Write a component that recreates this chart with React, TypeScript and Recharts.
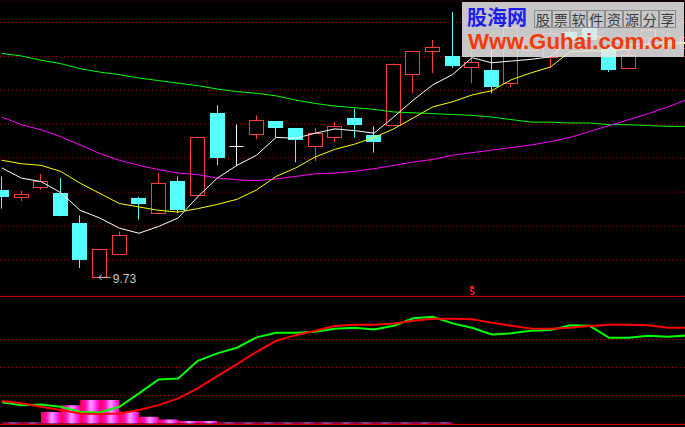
import { ComposedChart, Bar, Line, Area, XAxis, YAxis, CartesianGrid, ReferenceDot } from "recharts";

// daily candles
const OPEN = [10.76, 10.68, 10.8, 10.72, 10.37, 9.73, 10.01, 10.67, 10.49, 10.87, 10.7, 11.67, 11.28, 11.42, 11.57, 11.49, 11.28, 11.39, 11.61, 11.41, 11.53, 12.13, 12.4, 12.34, 12.21, 12.17, 12.02, 12.41, 12.33, 12.62, 12.67, 12.45, 12.2, 12.55, 12.46, 12.43];
const CLOSE = [10.68, 10.71, 10.87, 10.45, 9.94, 10.06, 10.23, 10.59, 10.84, 10.52, 11.39, 11.14, 11.28, 11.58, 11.49, 11.35, 11.43, 11.52, 11.53, 11.33, 12.25, 12.4, 12.45, 12.22, 12.27, 11.97, 12.68, 12.55, 12.61, 12.53, 12.53, 12.17, 12.35, 12.65, 12.53, 12.56];
const HIGH = [10.92, 10.75, 10.95, 10.9, 10.46, 10.06, 10.27, 10.68, 10.96, 10.92, 11.39, 11.76, 11.53, 11.64, 11.57, 11.49, 11.49, 11.56, 11.72, 11.51, 12.25, 12.4, 12.53, 12.86, 12.47, 12.41, 12.71, 12.59, 12.65, 12.71, 12.76, 12.47, 12.43, 12.68, 12.61, 12.61];
const LOW = [10.54, 10.63, 10.76, 10.45, 9.84, 9.73, 10.01, 10.41, 10.49, 10.49, 10.68, 11.05, 11.04, 11.36, 11.38, 11.09, 11.1, 11.33, 11.38, 11.2, 11.53, 11.9, 12.14, 12.2, 12.02, 11.9, 11.97, 12.33, 12.2, 12.47, 12.47, 12.15, 12.2, 12.41, 12.38, 12.39];

// moving averages
const MA5 = [11.02, 10.9, 10.86, 10.73, 10.52, 10.43, 10.31, 10.25, 10.33, 10.43, 10.68, 10.9, 11.05, 11.17, 11.38, 11.37, 11.43, 11.48, 11.46, 11.43, 11.62, 11.82, 12.0, 12.12, 12.32, 12.26, 12.28, 12.3, 12.33, 12.53, 12.6, 12.53, 12.47, 12.48, 12.5, 12.5];
const MA10 = [11.11, 11.07, 11.05, 10.98, 10.84, 10.72, 10.6, 10.56, 10.52, 10.5, 10.54, 10.59, 10.65, 10.76, 10.92, 11.02, 11.15, 11.24, 11.3, 11.38, 11.48, 11.61, 11.74, 11.8, 11.88, 11.93, 12.06, 12.14, 12.21, 12.39, 12.4, 12.4, 12.42, 12.45, 12.47, 12.49];
const MA30 = [11.62, 11.53, 11.47, 11.39, 11.29, 11.19, 11.11, 11.05, 11.0, 10.96, 10.94, 10.9, 10.88, 10.87, 10.89, 10.92, 10.95, 10.96, 10.98, 11.01, 11.05, 11.09, 11.12, 11.17, 11.2, 11.23, 11.26, 11.29, 11.33, 11.38, 11.45, 11.52, 11.59, 11.66, 11.74, 11.83];
const MA60 = [12.37, 12.34, 12.29, 12.25, 12.19, 12.15, 12.12, 12.08, 12.05, 12.02, 11.99, 11.95, 11.92, 11.9, 11.87, 11.82, 11.78, 11.75, 11.73, 11.71, 11.68, 11.67, 11.66, 11.65, 11.64, 11.62, 11.59, 11.56, 11.56, 11.55, 11.55, 11.53, 11.53, 11.52, 11.51, 11.51];

// oscillator pane
const FAST = [15.1, 13.1, 13.6, 11.9, 8.4, 7.9, 11.9, 21.5, 31.5, 32.2, 44.8, 50.1, 54.1, 61.5, 64.8, 64.8, 65.5, 67.6, 68.4, 67.2, 69.8, 75.1, 76.2, 71.5, 68.4, 63.6, 64.4, 66.2, 66.7, 70.1, 69.8, 61.2, 61.2, 62.6, 61.9, 62.9];
const SLOW = [16.0, 14.4, 11.9, 9.6, 7.2, 6.7, 7.2, 9.6, 13.1, 17.9, 25.1, 33.9, 42.4, 51.2, 59.1, 63.1, 66.2, 69.6, 70.5, 70.5, 71.5, 73.4, 74.8, 74.8, 74.4, 71.9, 69.8, 67.9, 67.6, 68.4, 69.6, 70.5, 70.5, 70.1, 68.4, 68.4];
const HIST = [0.7, 0.7, 8.3, 13.1, 16.7, 16.7, 8.3, 4.8, 2.9, 1.7, 1.7, 0.7, 0.7, 0.7, 0.7, 0.7, 0.7, 0.7, 0.7, 0.7, 0.7, 0.7, 0.7, 0, 0, 0, 0, 0, 0, 0, 0, 0, 0, 0, 0, 0];

const PRICE_TICKS = [9.935, 10.335, 10.735, 11.135, 11.535, 11.935, 12.335, 12.735];
const OSC_TICKS = [20, 40, 60];
const PRICE_DOMAIN = [9.51, 13.0];
const LOW_MARK = 5;
const SELL_AT = 24;
const TAGLINE = "股票软件资源分享";

const UP = "#ff3c3c";
const DOWN = "#54ffff";
const GRID = "#a80000";
const FRAME = "#c80000";

const W = 705.4;

const priceRows = OPEN.map((open, i) => ({
  i,
  open,
  close: CLOSE[i],
  high: HIGH[i],
  low: LOW[i],
  ma5: MA5[i],
  ma10: MA10[i],
  ma30: MA30[i],
  ma60: MA60[i],
}));

const oscRows = FAST.map((fast, i) => ({ i, fast, slow: SLOW[i], hist: HIST[i] }));

function Candle(props: any) {
  let { x, y, width, height, payload } = props;
  if (!payload || height == null) return null;
  if (height < 0) {
    y += height;
    height = -height;
  }
  const { open, close, high, low } = payload;
  const k = height / (high - low);
  const py = (v: number) => y + (high - v) * k;
  const cx = Math.floor(x + width / 2) + 0.5;
  if (open === close) {
    const yy = Math.round(py(open)) + 0.5;
    return (
      <g>
        <line x1={cx} x2={cx} y1={py(high)} y2={py(low)} stroke="#fff" />
        <line x1={cx - 7} x2={cx + 7} y1={yy} y2={yy} stroke="#fff" />
      </g>
    );
  }
  if (close > open) {
    const top = Math.round(py(close)) + 0.5;
    const bot = Math.round(py(open)) + 0.5;
    return (
      <g>
        <line x1={cx} x2={cx} y1={py(high)} y2={top} stroke={UP} />
        <line x1={cx} x2={cx} y1={bot} y2={py(low)} stroke={UP} />
        <rect x={cx - 7} y={top} width={14} height={bot - top} fill="#000" stroke={UP} />
      </g>
    );
  }
  const top = Math.round(py(open));
  const bot = Math.round(py(close));
  return (
    <g>
      <line x1={cx} x2={cx} y1={py(high)} y2={py(low)} stroke={DOWN} />
      <rect x={cx - 7.5} y={top} width={15} height={Math.max(1, bot - top)} fill={DOWN} />
    </g>
  );
}

function LowTag({ cx, cy }: any) {
  return (
    <g>
      <line x1={cx - 1} x2={cx + 11} y1={cy} y2={cy} stroke="#c0c0c0" />
      <path d={`M${cx + 2},${cy - 2.5} L${cx - 1},${cy} L${cx + 2},${cy + 2.5}`} stroke="#c0c0c0" fill="none" />
      <text x={cx + 13} y={cy + 5.5} fill="#c8c8c8" fontSize={12} fontFamily="Liberation Sans, Arial, sans-serif">
        {LOW[LOW_MARK].toFixed(2)}
      </text>
    </g>
  );
}

function SellMark({ cx, cy }: any) {
  return (
    <g fill="#ff2020">
      <path d={`M${cx - 2.5},${cy - 8} L${cx},${cy - 11} L${cx + 2.5},${cy - 8} Z`} />
      <text x={cx} y={cy - 0.5} textAnchor="middle" fontSize={9.5} fontWeight="bold" fontFamily="DejaVu Sans Mono, monospace">
        S
      </text>
    </g>
  );
}

const lineProps = { type: "linear" as const, dot: false, activeDot: false, isAnimationActive: false };

export default function App() {
  return (
    <div style={{ position: "fixed", left: 0, top: 0, width: 685, height: 427, background: "#000", overflow: "hidden" }}>
      <div style={{ position: "absolute", left: 0, top: 296, width: 685, height: 1, background: FRAME }} />
      <div style={{ position: "absolute", left: 0, top: 424, width: 685, height: 1, background: FRAME }} />

      <div style={{ position: "absolute", left: -8, top: 0 }}>
        <ComposedChart width={W} height={300} data={priceRows} margin={{ top: 0, right: 0, bottom: 4, left: 0 }} barSize={15}>
          <XAxis dataKey="i" type="category" scale="band" hide />
          <YAxis domain={PRICE_DOMAIN} ticks={PRICE_TICKS} allowDataOverflow hide />
          <CartesianGrid vertical={false} stroke={GRID} strokeDasharray="1 3" />
          <Bar dataKey={(d: any) => [d.low, d.high]} shape={Candle} isAnimationActive={false} />
          <Line {...lineProps} dataKey="ma60" stroke="#00ff00" strokeWidth={1} />
          <Line {...lineProps} dataKey="ma30" stroke="#ff00ff" strokeWidth={1} />
          <Line {...lineProps} dataKey="ma10" stroke="#ffff00" strokeWidth={1} />
          <Line {...lineProps} dataKey="ma5" stroke="#ffffff" strokeWidth={1} />
          <ReferenceDot x={LOW_MARK} y={LOW[LOW_MARK]} shape={LowTag} ifOverflow="visible" />
          <ReferenceDot x={SELL_AT} y={PRICE_DOMAIN[0]} shape={SellMark} ifOverflow="visible" />
        </ComposedChart>
      </div>

      <div style={{ position: "absolute", left: -8, top: 296 }}>
        <ComposedChart width={W} height={128} data={oscRows} margin={{ top: 0, right: 0, bottom: 0, left: 0 }}>
          <defs>
            <linearGradient id="histFade" x1="0" x2="1" y1="0" y2="0">
              <stop offset="0" stopColor="#ff0040" />
              <stop offset="0.3" stopColor="#ff10c8" />
              <stop offset="0.55" stopColor="#ffa0ff" />
              <stop offset="0.8" stopColor="#ff30ff" />
              <stop offset="1" stopColor="#ff0090" />
            </linearGradient>
            <pattern id="histStripes" patternUnits="userSpaceOnUse" x={W / 72} y={0} width={W / 36} height={8}>
              <rect width={W / 36} height={8} fill="url(#histFade)" />
            </pattern>
          </defs>
          <XAxis dataKey="i" type="category" scale="band" hide />
          <YAxis domain={[-0.36, 91.07]} ticks={OSC_TICKS} allowDataOverflow hide />
          <CartesianGrid vertical={false} stroke={GRID} strokeDasharray="1 3" />
          <Area type="stepAfter" dataKey="hist" baseValue={0} stroke="none" fill="url(#histStripes)" fillOpacity={1} activeDot={false} isAnimationActive={false} />
          <Line {...lineProps} dataKey="fast" stroke="#00ff00" strokeWidth={2} />
          <Line {...lineProps} dataKey="slow" stroke="#ff0000" strokeWidth={2} />
        </ComposedChart>
      </div>

      <div style={{ position: "absolute", left: 462, top: 2, width: 222, height: 55, background: "rgba(232,232,232,0.86)" }}>
        <div style={{ position: "absolute", left: 5, top: 5, fontFamily: "'Noto Sans CJK SC'", fontWeight: 700, fontSize: 20, lineHeight: "20px", height: 20, color: "#1c1cf0" }}>
          股海网
        </div>
        <div style={{ position: "absolute", left: 72, top: 8, display: "flex" }}>
          {TAGLINE.split("").map((c, i) => (
            <span
              key={i}
              style={{
                width: 17.8,
                height: 18,
                boxSizing: "border-box",
                border: "1px solid #8c8c8c",
                fontFamily: "'Noto Sans CJK SC'",
                fontSize: 14,
                lineHeight: "16px",
                textAlign: "center",
                color: "#3a3a3a",
                overflow: "hidden",
              }}
            >
              {c}
            </span>
          ))}
        </div>
        <div style={{ position: "absolute", left: 6, top: 29, fontFamily: "'Liberation Sans', Arial, sans-serif", fontWeight: 700, fontSize: 22.3, lineHeight: "22px", color: "#f33a0a" }}>
          Www.Guhai.com.cn
        </div>
      </div>
    </div>
  );
}
